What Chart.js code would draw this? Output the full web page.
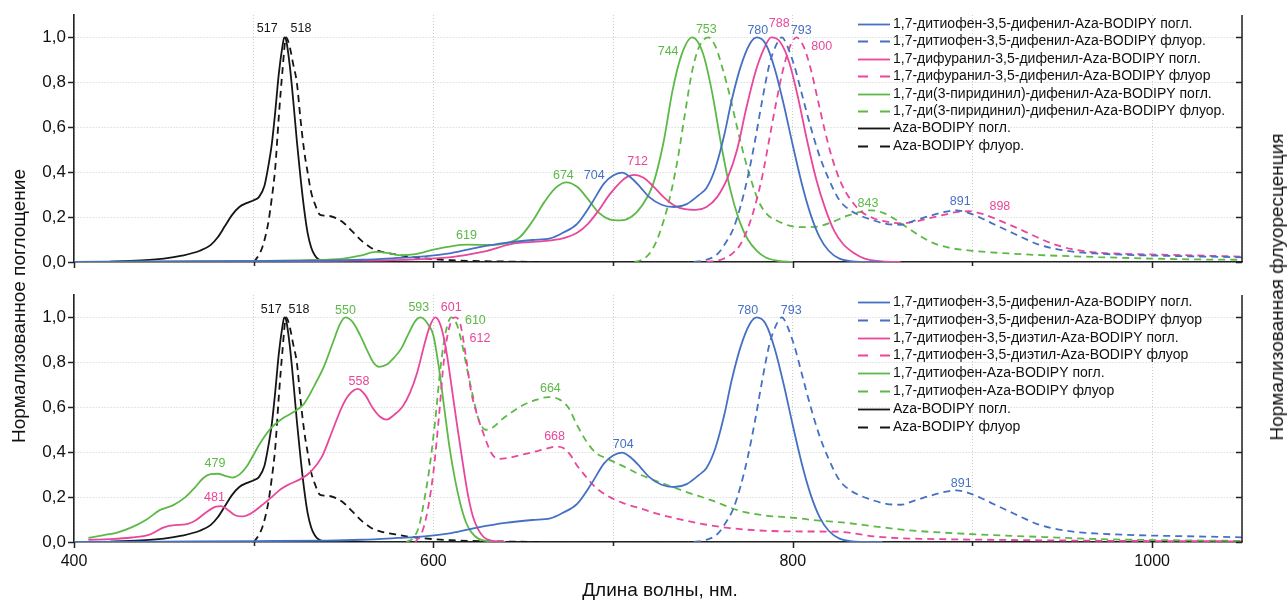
<!DOCTYPE html>
<html lang="ru">
<head>
<meta charset="utf-8">
<title>Спектры поглощения и флуоресценции Aza-BODIPY</title>
<script src="https://cdn.jsdelivr.net/npm/chart.js@4.4.0/dist/chart.umd.min.js"></script>
<style>
    html, body { margin: 0; padding: 0; background: #fff; }
    #page {
        position: relative;
        width: 1287px;
        height: 602px;
        overflow: hidden;
        font-family: 'Liberation Sans', Arial, sans-serif;
        color: #111;
    }
    #page canvas { position: absolute; left: 0; }
    #topChart { top: 0; }
    #bottomChart { top: 290px; }
    .axis-title {
        position: absolute;
        font-size: 19px;
        white-space: nowrap;
        transform: translate(-50%, -50%);
    }
    .axis-title.vertical { transform: translate(-50%, -50%) rotate(-90deg); }
</style>
</head>
<body>
<div id="page">
    <canvas id="topChart" width="1287" height="290"></canvas>
    <canvas id="bottomChart" width="1287" height="312"></canvas>
    <div class="axis-title vertical" style="left:19px; top:306px;">Нормализованное поглощение</div>
    <div class="axis-title vertical" style="left:1277px; top:287px;">Нормализованная флуоресценция</div>
    <div class="axis-title" style="left:660px; top:590px;">Длина волны, нм.</div>
</div>

<script>
// ---- Data (wavelength in nm, normalised intensity) ----

// Aza-BODIPY (same curves in both panels)
const azaAbsNm  = [420, 440, 450, 460, 470, 476, 480, 484, 488, 492, 496, 500, 503, 506, 508, 510, 512, 514, 516, 517, 518, 520, 522, 524, 526, 528, 530, 532, 534, 536, 540, 550, 560];
const azaAbsVal = [0.002, 0.008, 0.015, 0.028, 0.05, 0.075, 0.11, 0.16, 0.21, 0.245, 0.262, 0.275, 0.29, 0.34, 0.42, 0.52, 0.67, 0.84, 0.96, 1.0, 0.99, 0.88, 0.72, 0.54, 0.38, 0.24, 0.13, 0.065, 0.03, 0.012, 0.003, 0, 0];
const azaFlNm  = [500, 502, 505, 508, 510, 512, 514, 516, 518, 520, 522, 524, 526, 528, 530, 532, 534, 537, 542, 546, 550, 555, 560, 565, 570, 578, 585, 595, 610, 640, 660];
const azaFlVal = [0, 0.02, 0.07, 0.17, 0.28, 0.42, 0.65, 0.85, 1.0, 0.96, 0.88, 0.8, 0.64, 0.5, 0.4, 0.31, 0.26, 0.21, 0.205, 0.195, 0.175, 0.135, 0.095, 0.065, 0.048, 0.035, 0.025, 0.016, 0.008, 0.002, 0];

// 1,7-дитиофен-3,5-дифенил-Aza-BODIPY (both panels)
const thioPhAbsNm  = [400, 450, 500, 540, 560, 580, 595, 610, 625, 640, 655, 665, 672, 680, 688, 695, 700, 705, 710, 715, 720, 727, 734, 741, 748, 752, 757, 762, 766, 771, 776, 780, 785, 790, 795, 800, 805, 810, 815, 820, 826, 835, 850];
const thioPhAbsVal = [0, 0.002, 0.004, 0.006, 0.01, 0.018, 0.025, 0.04, 0.065, 0.085, 0.098, 0.105, 0.13, 0.17, 0.26, 0.35, 0.385, 0.398, 0.375, 0.335, 0.29, 0.255, 0.245, 0.258, 0.3, 0.33, 0.42, 0.57, 0.72, 0.87, 0.97, 1.0, 0.97, 0.86, 0.7, 0.52, 0.35, 0.21, 0.11, 0.05, 0.015, 0.002, 0];
const thioPhFlNm  = [745, 752, 758, 763, 767, 771, 775, 779, 783, 787, 791, 794, 797, 801, 805, 810, 815, 820, 826, 832, 838, 845, 852, 860, 868, 876, 884, 891, 898, 905, 912, 920, 928, 936, 945, 955, 968, 985, 1010, 1030, 1050];
const thioPhFlVal = [0, 0.01, 0.035, 0.09, 0.15, 0.25, 0.38, 0.54, 0.72, 0.88, 0.97, 1.0, 0.96, 0.87, 0.75, 0.6, 0.47, 0.37, 0.275, 0.23, 0.205, 0.185, 0.17, 0.166, 0.185, 0.205, 0.222, 0.23, 0.218, 0.195, 0.168, 0.138, 0.108, 0.08, 0.06, 0.047, 0.038, 0.032, 0.027, 0.024, 0.021];

// Top panel: 1,7-дифуранил-3,5-дифенил-Aza-BODIPY
const furPhAbsNm  = [400, 500, 560, 590, 610, 628, 645, 660, 672, 680, 686, 692, 698, 704, 708, 712, 717, 722, 728, 734, 740, 746, 752, 758, 764, 769, 774, 779, 784, 788, 793, 798, 803, 808, 813, 818, 823, 828, 834, 840, 850, 860];
const furPhAbsVal = [0, 0.003, 0.006, 0.012, 0.022, 0.046, 0.083, 0.092, 0.105, 0.13, 0.17, 0.23, 0.3, 0.355, 0.38, 0.388, 0.375, 0.34, 0.29, 0.252, 0.235, 0.232, 0.245, 0.29, 0.38, 0.5, 0.68, 0.84, 0.95, 1.0, 0.98, 0.89, 0.73, 0.54, 0.37, 0.24, 0.14, 0.08, 0.04, 0.015, 0.003, 0];
const furPhFlNm  = [752, 760, 766, 771, 775, 779, 783, 787, 791, 795, 799, 802, 806, 810, 814, 818, 822, 827, 832, 838, 845, 852, 860, 868, 876, 884, 891, 898, 905, 912, 920, 928, 936, 945, 955, 968, 985, 1010, 1030, 1050];
const furPhFlVal = [0, 0.01, 0.035, 0.08, 0.15, 0.25, 0.38, 0.55, 0.72, 0.87, 0.97, 1.0, 0.96, 0.86, 0.72, 0.58, 0.46, 0.35, 0.28, 0.225, 0.195, 0.18, 0.172, 0.18, 0.195, 0.21, 0.222, 0.226, 0.215, 0.195, 0.168, 0.14, 0.11, 0.08, 0.058, 0.043, 0.036, 0.032, 0.028, 0.024];

// Top panel: 1,7-ди(3-пиридинил)-дифенил-Aza-BODIPY
const pyrAbsNm  = [400, 450, 500, 530, 550, 560, 568, 575, 582, 590, 600, 610, 619, 630, 640, 648, 655, 662, 668, 674, 680, 686, 692, 698, 704, 710, 716, 722, 728, 733, 738, 744, 750, 755, 760, 765, 770, 775, 780, 785, 792, 800];
const pyrAbsVal = [0, 0.003, 0.005, 0.008, 0.015, 0.03, 0.045, 0.04, 0.03, 0.035, 0.055, 0.07, 0.077, 0.076, 0.082, 0.11, 0.18, 0.27, 0.33, 0.355, 0.335, 0.28, 0.22, 0.19, 0.185, 0.2, 0.25, 0.34, 0.53, 0.76, 0.92, 1.0, 0.93, 0.76, 0.53, 0.33, 0.19, 0.1, 0.05, 0.02, 0.005, 0];
const pyrFlNm  = [712, 716, 720, 724, 728, 732, 736, 740, 744, 748, 753, 757, 761, 765, 769, 773, 777, 781, 786, 791, 798, 806, 814, 822, 830, 837, 843, 850, 857, 864, 871, 878, 888, 900, 920, 940, 970, 1000, 1030, 1050];
const pyrFlVal = [0, 0.01, 0.035, 0.09, 0.18, 0.3, 0.46, 0.66, 0.85, 0.96, 1.0, 0.96, 0.86, 0.74, 0.6, 0.47, 0.36, 0.27, 0.21, 0.185, 0.162, 0.155, 0.158, 0.178, 0.205, 0.222, 0.23, 0.22, 0.19, 0.152, 0.115, 0.085, 0.062, 0.05, 0.038, 0.03, 0.022, 0.015, 0.011, 0.01];

// Bottom panel: 1,7-дитиофен-3,5-диэтил-Aza-BODIPY
const thioEtAbsNm  = [408, 420, 432, 442, 450, 456, 462, 468, 474, 479, 482, 486, 490, 494, 499, 504, 510, 515, 520, 526, 532, 538, 544, 549, 553, 558, 562, 566, 570, 574, 578, 583, 587, 591, 595, 598, 601, 604, 607, 610, 613, 616, 619, 622, 625, 628, 633, 640];
const thioEtAbsVal = [0.01, 0.013, 0.02, 0.033, 0.065, 0.075, 0.078, 0.098, 0.135, 0.158, 0.16, 0.14, 0.118, 0.114, 0.13, 0.16, 0.2, 0.235, 0.258, 0.28, 0.315, 0.38, 0.5, 0.6, 0.655, 0.682, 0.655, 0.6, 0.56, 0.545, 0.565, 0.605, 0.665, 0.755, 0.88, 0.96, 1.0, 0.965, 0.86, 0.7, 0.53, 0.37, 0.22, 0.114, 0.055, 0.022, 0.005, 0];
const thioEtFlNm  = [590, 594, 597, 600, 603, 606, 609, 612, 615, 618, 621, 624, 628, 632, 636, 642, 650, 658, 664, 668, 672, 676, 680, 685, 690, 697, 705, 715, 725, 735, 750, 765, 780, 800, 825, 835, 845, 860, 880, 920, 980, 1050];
const thioEtFlVal = [0, 0.05, 0.15, 0.31, 0.55, 0.82, 0.96, 1.0, 0.97, 0.83, 0.67, 0.575, 0.48, 0.4, 0.37, 0.375, 0.39, 0.405, 0.418, 0.425, 0.42, 0.39, 0.34, 0.29, 0.245, 0.205, 0.175, 0.15, 0.125, 0.105, 0.08, 0.062, 0.052, 0.047, 0.046, 0.037, 0.025, 0.017, 0.013, 0.009, 0.005, 0.003];

// Bottom panel: 1,7-дитиофен-Aza-BODIPY
const thioAbsNm  = [408, 416, 424, 432, 440, 448, 455, 462, 467, 472, 476, 480, 484, 488, 492, 496, 500, 504, 510, 516, 522, 528, 534, 539, 544, 548, 551, 555, 559, 563, 567, 570, 574, 578, 582, 586, 590, 593, 597, 600, 603, 606, 609, 612, 615, 618, 621, 625, 632, 640];
const thioAbsVal = [0.018, 0.03, 0.042, 0.065, 0.098, 0.143, 0.163, 0.2, 0.24, 0.285, 0.302, 0.304, 0.295, 0.287, 0.3, 0.335, 0.39, 0.445, 0.51, 0.55, 0.578, 0.615, 0.7, 0.78, 0.886, 0.97, 1.0, 0.98, 0.925, 0.856, 0.795, 0.78, 0.79, 0.82, 0.86, 0.925, 0.985, 1.0, 0.97, 0.92, 0.78, 0.6, 0.42, 0.28, 0.17, 0.09, 0.045, 0.015, 0.003, 0];
const thioFlNm  = [585, 589, 592, 595, 598, 601, 604, 607, 610, 613, 616, 619, 622, 625, 629, 633, 638, 644, 650, 656, 664, 670, 675, 680, 685, 690, 697, 705, 715, 728, 740, 755, 770, 785, 800, 815, 830, 845, 865, 900, 940, 975, 1010, 1050];
const thioFlVal = [0, 0.02, 0.07, 0.19, 0.34, 0.54, 0.78, 0.94, 1.0, 0.97, 0.88, 0.76, 0.65, 0.55, 0.5, 0.51, 0.545, 0.58, 0.61, 0.63, 0.645, 0.635, 0.6, 0.52, 0.45, 0.4, 0.37, 0.34, 0.3, 0.26, 0.225, 0.185, 0.14, 0.118, 0.108, 0.095, 0.085, 0.07, 0.052, 0.035, 0.022, 0.012, 0.008, 0.005];

// Legend texts
const topLegend = [
    '1,7-дитиофен-3,5-дифенил-Aza-BODIPY погл.',
    '1,7-дитиофен-3,5-дифенил-Aza-BODIPY флуор.',
    '1,7-дифуранил-3,5-дифенил-Aza-BODIPY погл.',
    '1,7-дифуранил-3,5-дифенил-Aza-BODIPY флуор',
    '1,7-ди(3-пиридинил)-дифенил-Aza-BODIPY погл.',
    '1,7-ди(3-пиридинил)-дифенил-Aza-BODIPY флуор.',
    'Aza-BODIPY погл.',
    'Aza-BODIPY флуор.'
];
const bottomLegend = [
    '1,7-дитиофен-3,5-дифенил-Aza-BODIPY погл.',
    '1,7-дитиофен-3,5-дифенил-Aza-BODIPY флуор',
    '1,7-дитиофен-3,5-диэтил-Aza-BODIPY погл.',
    '1,7-дитиофен-3,5-диэтил-Aza-BODIPY флуор',
    '1,7-дитиофен-Aza-BODIPY погл.',
    '1,7-дитиофен-Aza-BODIPY флуор',
    'Aza-BODIPY погл.',
    'Aza-BODIPY флуор'
];

// Peak annotations: wavelength and the series (dataset index) it belongs to
const topPeakNm     = [517, 518, 619, 674, 704, 712, 744, 753, 780, 788, 793, 800, 843, 891, 898];
const topPeakSeries = [6, 7, 4, 4, 0, 2, 4, 5, 0, 2, 1, 3, 5, 1, 3];
const bottomPeakNm     = [517, 518, 479, 481, 550, 558, 593, 601, 610, 612, 664, 668, 704, 780, 793, 891];
const bottomPeakSeries = [6, 7, 4, 2, 4, 2, 4, 2, 5, 3, 5, 3, 0, 0, 1, 1];

// X axis range and tick labels
const xMin = 400, xMax = 1050, xStep = 100;
const xLabelled = [400, 600, 800, 1000];
const yMax = 1.1;

// ---- Styles ----
const BLUE = '#4570C3';
const PINK = '#E8479B';
const GREEN = '#5DB947';
const BLACK = '#151515';
const FONT = "'Liberation Sans', Arial, sans-serif";

// label offsets in px from the peak point
const topPeakOffsets = [[-17, -9], [15, -9], [-1, -9], [-3, -7], [-26, 2], [3, -13], [-24, 14], [-2, -8],
                        [1, -7], [8, -14], [21, -9], [29, 5], [-2, -7], [4, -9], [31, -5]];
const bottomPeakOffsets = [[-13, -8], [13, -8], [-1, -10], [-5, -9], [2, -9], [1, -7], [-2, -10], [16, -10],
                           [24, 3], [25, 21], [2, -9], [-1, -10], [3, -9], [-9, -7], [11, -9], [5, -7]];

Chart.defaults.font.family = FONT;
Chart.defaults.color = '#111';

function toPoints(nm, val) {
    return nm.map((x, i) => ({ x: x, y: val[i] }));
}

function makeSeries(label, nm, val, color, dashed) {
    return {
        label: label,
        data: toPoints(nm, val),
        borderColor: color,
        borderWidth: 1.8,
        borderDash: dashed ? [7, 5] : [],
        pointRadius: 0,
        cubicInterpolationMode: 'monotone',
        fill: false
    };
}

// Value of a series at a given wavelength (linear between read points)
function valueAt(data, nm) {
    for (let i = 1; i < data.length; i++) {
        if (data[i].x >= nm) {
            const p = data[i - 1], q = data[i];
            return p.y + (q.y - p.y) * (nm - p.x) / (q.x - p.x);
        }
    }
    return 0;
}

// Minor/major tick marks + right axis with inward ticks
const axisTicks = {
    id: 'axisTicks',
    afterDraw(chart) {
        const { ctx, chartArea: a, scales: { x, y } } = chart;
        ctx.save();
        ctx.strokeStyle = '#222';
        ctx.lineWidth = 1.5;
        ctx.beginPath();
        ctx.moveTo(a.right, a.top);
        ctx.lineTo(a.right, a.bottom);
        y.ticks.forEach(t => {
            const py = Math.round(y.getPixelForValue(t.value)) + 0.5;
            const major = Math.round(t.value * 10) % 2 === 0;
            ctx.moveTo(a.left - (major ? 6 : 3.5), py);
            ctx.lineTo(a.left, py);
            ctx.moveTo(a.right - 6, py);
            ctx.lineTo(a.right, py);
        });
        ctx.stroke();
        ctx.beginPath();
        x.ticks.forEach(t => {
            if (t.value > 1000) return;
            const px = Math.round(x.getPixelForValue(t.value)) + 0.5;
            const major = xLabelled.includes(t.value);
            ctx.moveTo(px, a.bottom);
            ctx.lineTo(px, a.bottom + (major ? 6 : 4));
        });
        ctx.stroke();
        ctx.restore();
    }
};

// Legend drawn inside the plot area, top right
const panelLegend = {
    id: 'panelLegend',
    afterDraw(chart, args, o) {
        const ctx = chart.ctx;
        ctx.save();
        ctx.font = '14px ' + FONT;
        ctx.textBaseline = 'middle';
        chart.data.datasets.forEach((ds, i) => {
            const y = Math.round(o.y + i * o.rowHeight) + 0.5;
            ctx.strokeStyle = ds.borderColor;
            ctx.lineWidth = ds.borderWidth;
            ctx.setLineDash(ds.borderDash.length ? [10, 12] : []);
            ctx.beginPath();
            ctx.moveTo(o.x, y);
            ctx.lineTo(o.x + 32, y);
            ctx.stroke();
            ctx.setLineDash([]);
            ctx.fillStyle = '#111';
            ctx.fillText(ds.label, o.x + 35, y);
        });
        ctx.restore();
    }
};

// Wavelength labels at the peaks
const peakLabels = {
    id: 'peakLabels',
    afterDatasetsDraw(chart, args, o) {
        const { ctx, scales: { x, y } } = chart;
        ctx.save();
        ctx.font = '12.5px ' + FONT;
        ctx.textAlign = 'center';
        ctx.textBaseline = 'middle';
        o.nm.forEach((nm, i) => {
            const ds = chart.data.datasets[o.series[i]];
            const v = valueAt(ds.data, nm);
            const off = o.offsets[i];
            ctx.fillStyle = ds.borderColor;
            ctx.fillText(String(nm), x.getPixelForValue(nm) + off[0], y.getPixelForValue(v) + off[1]);
        });
        ctx.restore();
    }
};

function panelOptions(cfg) {
    return {
        responsive: false,
        animation: false,
        events: [],
        layout: { padding: { top: cfg.padTop, right: 45, left: 0, bottom: 0 } },
        scales: {
            x: {
                type: 'linear',
                min: xMin,
                max: xMax,
                ticks: {
                    display: cfg.showXLabels,
                    stepSize: xStep,
                    autoSkip: false,
                    maxRotation: 0,
                    padding: 10,
                    color: '#111',
                    font: { size: 16 },
                    callback: v => xLabelled.includes(v) ? String(v) : ''
                },
                grid: { color: '#cdcdcd', lineWidth: 1, drawTicks: false },
                border: { display: true, color: '#222', width: 1.6, dash: [1, 2] },
                afterFit: s => { s.height = cfg.xHeight; s.paddingLeft = 0; s.paddingRight = 0; }
            },
            y: {
                min: 0,
                max: yMax,
                ticks: {
                    stepSize: 0.1,
                    padding: 8,
                    color: '#111',
                    font: { size: 17 },
                    callback: v => {
                        const k = Math.round(v * 10);
                        return k % 2 === 0 ? (k / 10).toFixed(1).replace('.', ',') : '';
                    }
                },
                grid: { color: '#cdcdcd', lineWidth: 1, drawTicks: false },
                border: { display: true, color: '#222', width: 1.6, dash: [1, 2] },
                afterFit: s => { s.width = 74; s.paddingTop = 0; s.paddingBottom = 0; }
            }
        },
        plugins: {
            legend: { display: false },
            tooltip: { enabled: false },
            panelLegend: { x: 858, y: cfg.legendY, rowHeight: cfg.legendRow },
            peakLabels: { nm: cfg.peakNm, series: cfg.peakSeries, offsets: cfg.peakOffsets }
        }
    };
}

const topDatasets = [
    makeSeries(topLegend[0], thioPhAbsNm, thioPhAbsVal, BLUE, false),
    makeSeries(topLegend[1], thioPhFlNm, thioPhFlVal, BLUE, true),
    makeSeries(topLegend[2], furPhAbsNm, furPhAbsVal, PINK, false),
    makeSeries(topLegend[3], furPhFlNm, furPhFlVal, PINK, true),
    makeSeries(topLegend[4], pyrAbsNm, pyrAbsVal, GREEN, false),
    makeSeries(topLegend[5], pyrFlNm, pyrFlVal, GREEN, true),
    makeSeries(topLegend[6], azaAbsNm, azaAbsVal, BLACK, false),
    makeSeries(topLegend[7], azaFlNm, azaFlVal, BLACK, true)
];

const bottomDatasets = [
    makeSeries(bottomLegend[0], thioPhAbsNm, thioPhAbsVal, BLUE, false),
    makeSeries(bottomLegend[1], thioPhFlNm, thioPhFlVal, BLUE, true),
    makeSeries(bottomLegend[2], thioEtAbsNm, thioEtAbsVal, PINK, false),
    makeSeries(bottomLegend[3], thioEtFlNm, thioEtFlVal, PINK, true),
    makeSeries(bottomLegend[4], thioAbsNm, thioAbsVal, GREEN, false),
    makeSeries(bottomLegend[5], thioFlNm, thioFlVal, GREEN, true),
    makeSeries(bottomLegend[6], azaAbsNm, azaAbsVal, BLACK, false),
    makeSeries(bottomLegend[7], azaFlNm, azaFlVal, BLACK, true)
];

new Chart(document.getElementById('topChart'), {
    type: 'line',
    data: { datasets: topDatasets },
    options: panelOptions({
        padTop: 15, xHeight: 28, showXLabels: false,
        legendY: 24, legendRow: 17.4,
        peakNm: topPeakNm, peakSeries: topPeakSeries, peakOffsets: topPeakOffsets
    }),
    plugins: [axisTicks, panelLegend, peakLabels]
});

new Chart(document.getElementById('bottomChart'), {
    type: 'line',
    data: { datasets: bottomDatasets },
    options: panelOptions({
        padTop: 5, xHeight: 60, showXLabels: true,
        legendY: 11.7, legendRow: 17.9,
        peakNm: bottomPeakNm, peakSeries: bottomPeakSeries, peakOffsets: bottomPeakOffsets
    }),
    plugins: [axisTicks, panelLegend, peakLabels]
});
</script>
</body>
</html>
